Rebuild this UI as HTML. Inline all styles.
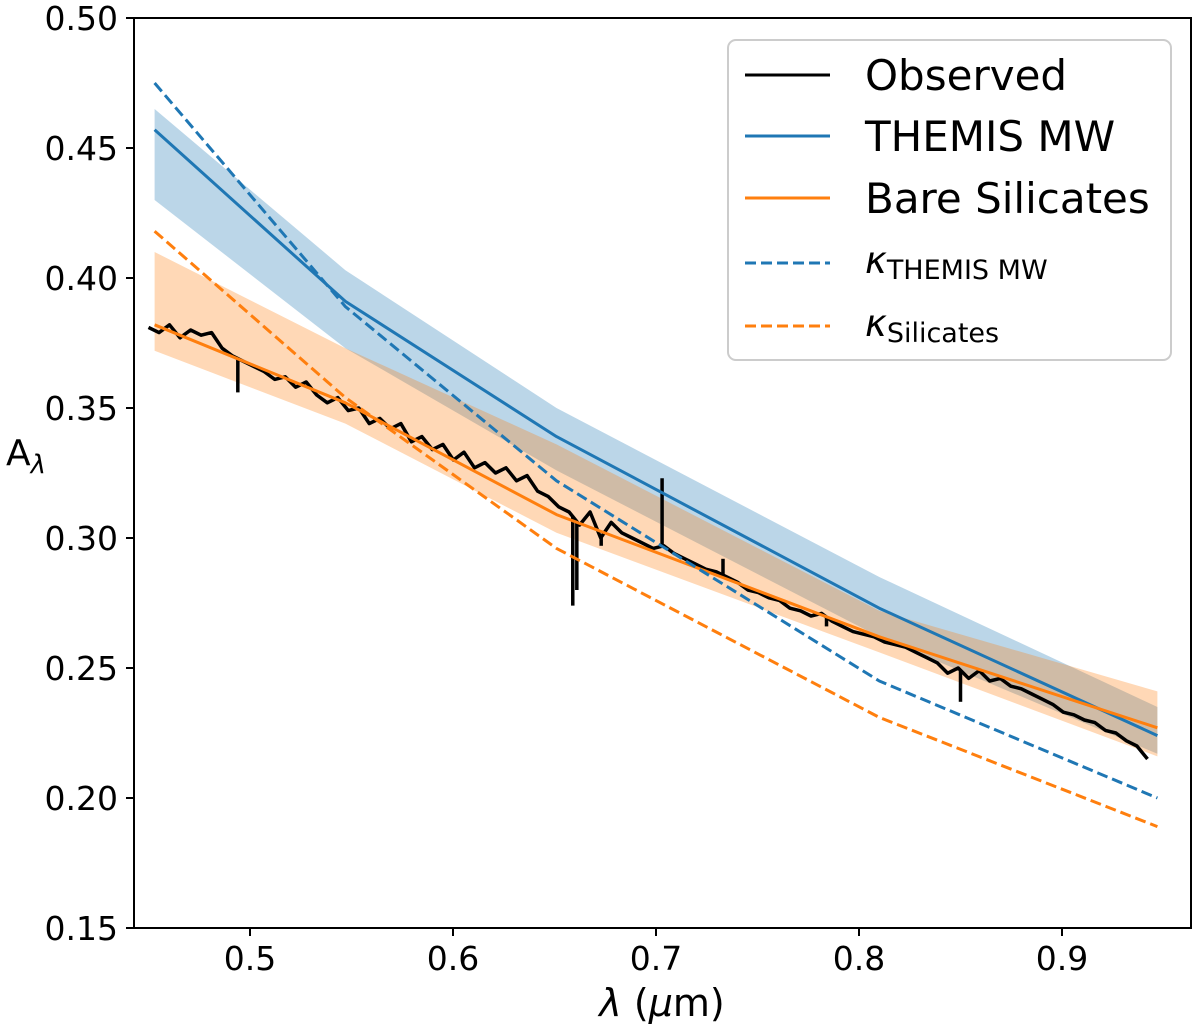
<!DOCTYPE html>
<html><head><meta charset="utf-8"><style>
body{margin:0;background:#fff;}
svg{display:block;font-family:"DejaVu Sans","Liberation Sans",sans-serif;}
</style></head><body>
<svg id="chart" width="1200" height="1033">
<defs><clipPath id="clip"><rect x="134" y="18" width="1057" height="910"/></clipPath></defs>
<g id="plot" clip-path="url(#clip)"></g>
<rect x="134" y="18" width="1057" height="910" fill="none" stroke="#000" stroke-width="2"/>
<g id="xt"></g>
<g id="yt"></g>
<text x="662" y="1016" font-size="38" text-anchor="middle"><tspan font-style="italic">λ</tspan> (<tspan font-style="italic">μ</tspan>m)</text>
<text x="6" y="465" font-size="36">A<tspan font-size="26" dy="8" font-style="italic">λ</tspan></text>
<g>
<rect x="728" y="40" width="443" height="320" rx="8" fill="#fff" fill-opacity="0.85" stroke="#ccc" stroke-width="2"/>
<g><line x1="745" y1="75" x2="830" y2="75" stroke="#000" stroke-width="3"/><text x="865" y="90" font-size="42">Observed</text></g>
<g><line x1="745" y1="136" x2="830" y2="136" stroke="#1f77b4" stroke-width="3"/><text x="865" y="151" font-size="42">THEMIS MW</text></g>
<g><line x1="745" y1="198" x2="830" y2="198" stroke="#ff7f0e" stroke-width="3"/><text x="865" y="213" font-size="42">Bare Silicates</text></g>
<g><line x1="745" y1="263" x2="830" y2="263" stroke="#1f77b4" stroke-width="3" stroke-dasharray="11,5"/><text x="865" y="273" font-size="37" font-style="italic">κ<tspan font-style="normal" font-size="27" dy="6">THEMIS MW</tspan></text></g>
<g><line x1="745" y1="326" x2="830" y2="326" stroke="#ff7f0e" stroke-width="3" stroke-dasharray="11,5"/><text x="865" y="336" font-size="37" font-style="italic">κ<tspan font-style="normal" font-size="27" dy="6">Silicates</tspan></text></g>
</g>
</svg>
<script>
const modelX=[0.453,0.547,0.651,0.810,0.947];
const themis=[0.457,0.391,0.339,0.273,0.224];
const themisLo=[0.430,0.373,0.326,0.262,0.217];
const themisHi=[0.465,0.403,0.350,0.285,0.235];
const sil=[0.382,0.352,0.309,0.262,0.227];
const silLo=[0.372,0.344,0.302,0.256,0.216];
const silHi=[0.410,0.373,0.336,0.272,0.241];
const kThemis=[0.475,0.389,0.322,0.245,0.200];
const kSil=[0.418,0.354,0.296,0.231,0.189];
const obsStart=0.450, obsStep=0.00518;
const obsY=[0.381,0.379,0.382,0.377,0.380,0.378,0.379,0.373,0.370,0.368,0.366,0.364,0.361,0.362,0.358,0.360,0.355,0.352,0.354,0.349,0.350,0.344,0.346,0.342,0.344,0.337,0.339,0.334,0.336,0.330,0.333,0.327,0.329,0.325,0.327,0.322,0.324,0.318,0.316,0.312,0.310,0.305,0.310,0.300,0.306,0.302,0.300,0.298,0.296,0.297,0.294,0.292,0.290,0.288,0.287,0.285,0.283,0.280,0.279,0.277,0.276,0.273,0.272,0.270,0.271,0.268,0.266,0.264,0.263,0.262,0.260,0.259,0.258,0.256,0.254,0.252,0.248,0.250,0.246,0.249,0.245,0.246,0.243,0.242,0.240,0.238,0.236,0.233,0.232,0.230,0.229,0.226,0.225,0.222,0.220,0.215];
const spikeX=[0.494,0.659,0.661,0.673,0.703,0.733,0.784,0.850];
const spikeVal=[0.356,0.274,0.280,0.297,0.323,0.292,0.266,0.237];
const xTicks=[0.5,0.6,0.7,0.8,0.9];
const xTickLabels=["0.5","0.6","0.7","0.8","0.9"];
const yTicks=[0.15,0.20,0.25,0.30,0.35,0.40,0.45,0.50];
const yTickLabels=["0.15","0.20","0.25","0.30","0.35","0.40","0.45","0.50"];

const NS="http://www.w3.org/2000/svg";
const X=v=>250+(v-0.5)*2030;
const Y=v=>18+(0.5-v)*2600;
const plot=document.getElementById('plot');
function mk(tag,attrs,parent){const e=document.createElementNS(NS,tag);for(const k in attrs)e.setAttribute(k,attrs[k]);parent.appendChild(e);return e;}
function pts(xs,ys){return xs.map((x,i)=>X(x).toFixed(1)+','+Y(ys[i]).toFixed(1)).join(' ');}
function band(lo,hi,color,name){
  const p=pts(modelX,hi)+' '+pts(modelX.slice().reverse(),lo.slice().reverse());
  const e=mk('polygon',{points:p,fill:color,'fill-opacity':0.3},plot);
  
  
}
function line(xs,ys,color,w,dash,name){
  const a={points:pts(xs,ys),fill:'none',stroke:color,'stroke-width':w,'stroke-linejoin':'round'};
  if(dash)a['stroke-dasharray']=dash;
  const e=mk('polyline',a,plot);
  
  
}
band(themisLo,themisHi,'#1f77b4','themis-band');
band(silLo,silHi,'#ff7f0e','silicates-band');
const obsX=obsY.map((_,i)=>obsStart+i*obsStep);
line(obsX,obsY,'#000',3.5,null,'observed-line');
spikeX.forEach((sx,i)=>{
  const k=Math.max(0,Math.min(obsY.length-2,Math.floor((sx-obsStart)/obsStep)));
  const t=(sx-obsX[k])/obsStep;
  const base=obsY[k]*(1-t)+obsY[k+1]*t;
  const e=mk('line',{x1:X(sx),y1:Y(base),x2:X(sx),y2:Y(spikeVal[i]),stroke:'#000','stroke-width':3.5},plot);
  
  
});
line(modelX,themis,'#1f77b4',3,null,'themis-line');
line(modelX,sil,'#ff7f0e',3,null,'silicates-line');
line(modelX,kThemis,'#1f77b4',3,'11,5','kappa-themis-line');
line(modelX,kSil,'#ff7f0e',3,'11,5','kappa-silicates-line');

const xt=document.getElementById('xt'), yt=document.getElementById('yt');
xTicks.forEach((v,i)=>{
  const l=mk('line',{x1:X(v),y1:928,x2:X(v),y2:936,stroke:'#000','stroke-width':2},xt);
  
  
  const t=mk('text',{x:X(v),y:970,'font-size':33,'text-anchor':'middle'},xt);
  t.textContent=xTickLabels[i];
  
  
});
yTicks.forEach((v,i)=>{
  const l=mk('line',{x1:126,y1:Y(v),x2:134,y2:Y(v),stroke:'#000','stroke-width':2},yt);
  
  
  const t=mk('text',{x:118,y:Y(v)+12,'font-size':33,'text-anchor':'end'},yt);
  t.textContent=yTickLabels[i];
  
  
});
</script>
</body></html>
